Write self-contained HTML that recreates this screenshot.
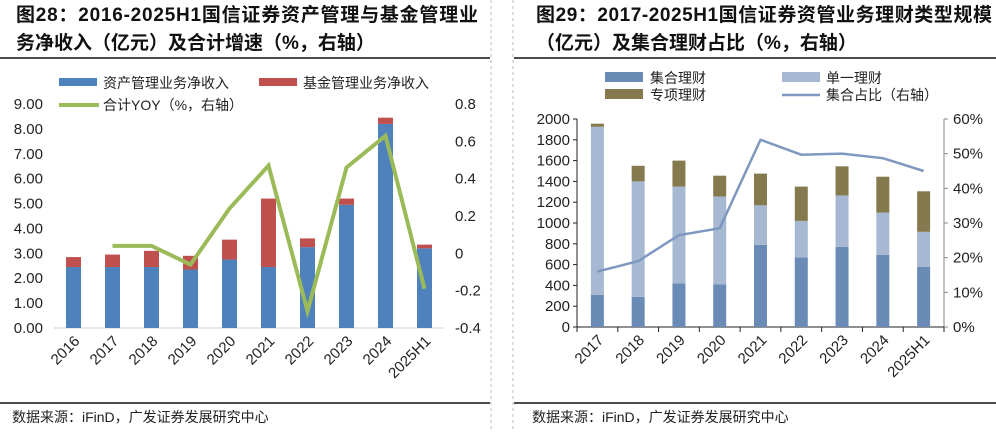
<!DOCTYPE html>
<html><head><meta charset="utf-8"><style>
body{margin:0;background:#fff;width:996px;height:431px;overflow:hidden;font-family:"Liberation Sans","Noto Sans CJK SC",sans-serif}
svg text{font-family:"Liberation Sans","Noto Sans CJK SC",sans-serif}
</style></head><body>
<svg width="996" height="431">
<g font-weight="bold" font-size="19" fill="#111">
<text x="16" y="21" textLength="462">图28：2016-2025H1国信证券资产管理与基金管理业</text>
<text x="16" y="49">务净收入（亿元）及合计增速（%，右轴）</text>
<text x="536" y="21" textLength="456">图29：2017-2025H1国信证券资管业务理财类型规模</text>
<text x="536" y="49">（亿元）及集合理财占比（%，右轴）</text>
</g>
<line x1="0" y1="58" x2="490" y2="58" stroke="#111" stroke-width="1.5"/>
<line x1="514" y1="58" x2="996" y2="58" stroke="#111" stroke-width="1.5"/>
<line x1="0" y1="403" x2="490" y2="403" stroke="#111" stroke-width="1.5"/>
<line x1="514" y1="403" x2="996" y2="403" stroke="#111" stroke-width="1.5"/>
<line x1="491" y1="0" x2="491" y2="431" stroke="#bbb" stroke-dasharray="3,3"/>
<line x1="513" y1="0" x2="513" y2="431" stroke="#bbb" stroke-dasharray="3,3"/>
<text x="12" y="422" font-size="14" fill="#222">数据来源：iFinD，广发证券发展研究中心</text>
<text x="532" y="422" font-size="14" fill="#222">数据来源：iFinD，广发证券发展研究中心</text>
<g id="left"></g>
<g id="right"></g>
</svg>
<script>
const leftCats=["2016","2017","2018","2019","2020","2021","2022","2023","2024","2025H1"];
const assetMgmt=[2.45,2.45,2.45,2.35,2.75,2.45,3.25,4.95,8.2,3.2];
const fundMgmt=[0.4,0.5,0.65,0.55,0.8,2.75,0.35,0.25,0.25,0.15];
const totalYoy=[null,0.04,0.04,-0.06,0.24,0.47,-0.31,0.46,0.63,-0.19];
const leftTicks=["0.00","1.00","2.00","3.00","4.00","5.00","6.00","7.00","8.00","9.00"];
const leftRightTicks=["-0.4","-0.2","0","0.2","0.4","0.6","0.8"];

const rightCats=["2017","2018","2019","2020","2021","2022","2023","2024","2025H1"];
const collective=[310,290,420,410,790,670,770,695,580];
const single=[1615,1110,930,845,380,350,495,405,335];
const special=[30,150,250,200,305,330,280,345,390];
const collRatio=[16,19,26.5,28.5,54,49.7,50,48.7,45];
const rightTicks=["0","200","400","600","800","1000","1200","1400","1600","1800","2000"];
const rightPctTicks=["0%","10%","20%","30%","40%","50%","60%"];

const NS="http://www.w3.org/2000/svg";
function mk(parent,tag,attrs,text){const e=document.createElementNS(NS,tag);for(const k in attrs)e.setAttribute(k,attrs[k]);if(text!==undefined)e.textContent=text;parent.appendChild(e);return e;}

// LEFT
(function(){
const g=document.getElementById('left');
const x0=54,x1=444,yB=328,yT=104;
const y=v=>yB-(v/9)*(yB-yT);
const y2=v=>yB-((v+0.4)/1.2)*(yB-yT);
const step=(x1-x0)/leftCats.length;
const cx=i=>x0+step*(i+0.5);
leftTicks.forEach((t,i)=>{const e=mk(g,'text',{x:43,y:y(+t)+5,'text-anchor':'end','font-size':15,fill:'#222'},t);
});
leftRightTicks.forEach(t=>{const e=mk(g,'text',{x:455,y:y2(+t)+5,'font-size':15,fill:'#222'},t);
});
mk(g,'line',{x1:x0,y1:yB,x2:x1,y2:yB,stroke:'#d0d0d0'});
leftCats.forEach((c,i)=>{
 const a=mk(g,'rect',{x:cx(i)-7.5,y:y(assetMgmt[i]),width:15,height:yB-y(assetMgmt[i]),fill:'#4f81bd'});
 
 const tot=assetMgmt[i]+fundMgmt[i];
 const f=mk(g,'rect',{x:cx(i)-7.5,y:y(tot),width:15,height:y(assetMgmt[i])-y(tot),fill:'#c0504d'});
 
 const t=mk(g,'text',{x:0,y:0,'font-size':15,fill:'#222','text-anchor':'end',transform:`translate(${cx(i)+7},${yB+14}) rotate(-45)`},c);
 
});
const pts=[];totalYoy.forEach((v,i)=>{if(v!==null)pts.push(cx(i)+','+y2(v));});
const l=mk(g,'polyline',{points:pts.join(' '),fill:'none',stroke:'#9bbb59','stroke-width':4,'stroke-linejoin':'miter'});

let e;
e=mk(g,'rect',{x:59,y:78,width:38,height:8,fill:'#4f81bd'});
e=mk(g,'text',{x:103,y:88,'font-size':14,fill:'#222'},'资产管理业务净收入');
e=mk(g,'rect',{x:259,y:78,width:38,height:8,fill:'#c0504d'});
e=mk(g,'text',{x:303,y:88,'font-size':14,fill:'#222'},'基金管理业务净收入');
e=mk(g,'line',{x1:59,y1:105,x2:99,y2:105,stroke:'#9bbb59','stroke-width':4});
e=mk(g,'text',{x:103,y:110,'font-size':14,fill:'#222'},'合计YOY（%，右轴）');
})();

// RIGHT
(function(){
const g=document.getElementById('right');
const x0=577,x1=944,yB=327,yT=119;
const y=v=>yB-(v/2000)*(yB-yT);
const y2=v=>yB-(v/60)*(yB-yT);
const step=(x1-x0)/rightCats.length;
const cx=i=>x0+step*(i+0.5);
rightTicks.forEach(t=>{const e=mk(g,'text',{x:570,y:y(+t)+5,'text-anchor':'end','font-size':15,fill:'#222'},t);

mk(g,'line',{x1:x0-4,y1:y(+t),x2:x0,y2:y(+t),stroke:'#222'});});
rightPctTicks.forEach(t=>{const v=parseFloat(t);const e=mk(g,'text',{x:953,y:y2(v)+5,'font-size':15,fill:'#222'},t);

mk(g,'line',{x1:x1,y1:y2(v),x2:x1+4,y2:y2(v),stroke:'#888'});});
mk(g,'line',{x1:x0,y1:yT,x2:x0,y2:yB,stroke:'#222'});
mk(g,'line',{x1:x1,y1:yT,x2:x1,y2:yB,stroke:'#888'});
mk(g,'line',{x1:x0,y1:yB,x2:x1,y2:yB,stroke:'#222'});
for(let i=0;i<=rightCats.length;i++)mk(g,'line',{x1:x0+step*i,y1:yB,x2:x0+step*i,y2:yB+5,stroke:'#222'});
rightCats.forEach((c,i)=>{
 let base=0;
 [[collective,'#6a8bb5','collective'],[single,'#a6b8d2','single'],[special,'#857a4e','special']].forEach(([arr,col,nm])=>{
  const r=mk(g,'rect',{x:cx(i)-6.5,y:y(base+arr[i]),width:13,height:y(base)-y(base+arr[i]),fill:col});
  
  base+=arr[i];
 });
 const t=mk(g,'text',{x:0,y:0,'font-size':15,fill:'#222','text-anchor':'end',transform:`translate(${cx(i)+7},${yB+14}) rotate(-45)`},c);
 
});
const l=mk(g,'polyline',{points:collRatio.map((v,i)=>cx(i)+','+y2(v)).join(' '),fill:'none',stroke:'#7f98c0','stroke-width':2.5});

let e;
e=mk(g,'rect',{x:605,y:72,width:38,height:10,fill:'#6a8bb5'});
e=mk(g,'text',{x:650,y:83,'font-size':14,fill:'#222'},'集合理财');
e=mk(g,'rect',{x:782,y:72,width:38,height:10,fill:'#a6b8d2'});
e=mk(g,'text',{x:826,y:83,'font-size':14,fill:'#222'},'单一理财');
e=mk(g,'rect',{x:605,y:89,width:38,height:10,fill:'#857a4e'});
e=mk(g,'text',{x:650,y:100,'font-size':14,fill:'#222'},'专项理财');
e=mk(g,'line',{x1:782,y1:95,x2:820,y2:95,stroke:'#7f98c0','stroke-width':2.5});
e=mk(g,'text',{x:826,y:100,'font-size':14,fill:'#222'},'集合占比（右轴）');
})();
</script>
</body></html>
